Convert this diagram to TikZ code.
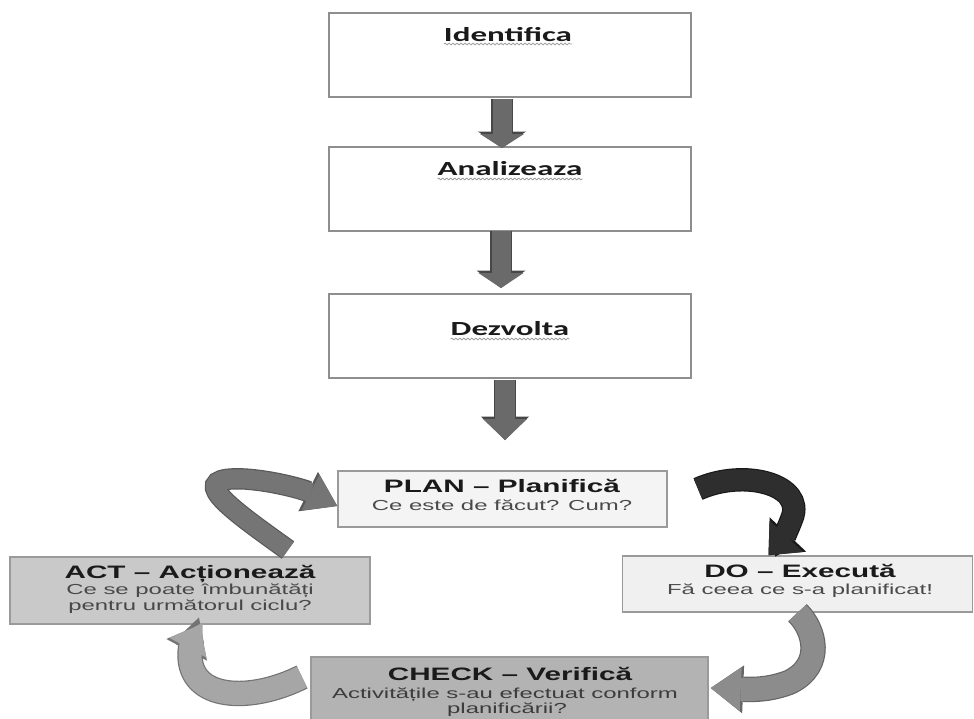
\documentclass[tikz,border=0pt]{standalone}
\usepackage{fontspec}
\usetikzlibrary{arrows.meta,decorations.pathmorphing,calc}
\newfontfamily\stepfont[FakeStretch=1.65]{Carlito}
\newfontfamily\cyclefont[FakeStretch=1.65]{Liberation Sans}
\definecolor{boxline}{HTML}{8E8E8E}
\definecolor{cycleline}{HTML}{9A9A9A}
\definecolor{planfill}{HTML}{F4F4F4}
\definecolor{dofill}{HTML}{F0F0F0}
\definecolor{actfill}{HTML}{C9C9C9}
\definecolor{checkfill}{HTML}{B3B3B3}
\definecolor{titletext}{HTML}{1A1A1A}
\definecolor{subtext}{HTML}{4A4A4A}
\definecolor{squiggle}{HTML}{A0A0A0}
\definecolor{stemfill}{HTML}{6A6A6A}
\definecolor{stemline}{HTML}{474747}
% ribbon arrow: outline colour, fill colour, shaft width, tip length, tip width, path
\newcommand\ribbonarrow[6]{%
  \draw[line width=#3pt+2.4pt, draw=#1, line cap=butt,
        -{Triangle[length=#4pt+2.4pt, width=#5pt+4pt, line width'=0pt]}] #6;
  \draw[line width=#3pt, draw=#2, line cap=butt,
        -{Triangle[length=#4pt, width=#5pt, line width'=0pt]}] #6;
}
\begin{document}
\begin{tikzpicture}[x=1pt, y=-1pt,
  stepbox/.style={draw=boxline, line width=2.6pt, fill=white,
    minimum width=362pt, minimum height=84pt, inner sep=0pt},
  steplabel/.style={anchor=base, inner sep=0pt, font=\stepfont\bfseries\fontsize{20}{22}\selectfont,
    text=titletext},
  cyclebox/.style={draw=cycleline, line width=1.5pt, inner sep=0pt},
  cycletitle/.style={anchor=base, inner sep=0pt, font=\cyclefont\bfseries\fontsize{18}{20}\selectfont,
    text=titletext},
  cyclesub/.style={anchor=base, inner sep=0pt, font=\cyclefont\fontsize{14.5}{16}\selectfont,
    text=subtext},
  wavy/.style={draw=squiggle, line width=0.8pt,
    decorate, decoration={snake, segment length=4pt, amplitude=0.9pt}}
]
\useasboundingbox (0,0) rectangle (974,718);
\fill[white] (0,0) rectangle (974,718);

% the three preparatory steps
\node[stepbox] (ident) at (510,55) {};
\node[stepbox] (analiz) at (510,189) {};
\node[stepbox] (dezv) at (510,336) {};

\node[steplabel] (identt) at (508,41) {Identifica};
\node[steplabel] (analizt) at (510,175) {Analizeaza};
\node[steplabel] (dezvt) at (510,335) {Dezvolta};
\draw[wavy] ([yshift=-3pt]identt.base west) -- ([yshift=-3pt]identt.base east);
\draw[wavy] ([yshift=-4pt]analizt.base west) -- ([yshift=-4pt]analizt.base east);
\draw[wavy] ([yshift=-4pt]dezvt.base west) -- ([yshift=-4pt]dezvt.base east);

% arrows between the steps
\coordinate (s1a) at (502,99);
\coordinate (s1b) at (502,148);
\coordinate (s2a) at (501,231);
\coordinate (s2b) at (501,288);
\coordinate (s3a) at (505,380);
\coordinate (s3b) at (505,440);
\ribbonarrow{stemline}{stemfill}{19}{14}{44}{(s1a) -- (s1b)}
\ribbonarrow{stemline}{stemfill}{19}{15}{45}{(s2a) -- (s2b)}
\ribbonarrow{stemline}{stemfill}{20}{21}{44}{(s3a) -- (s3b)}

% PDCA cycle boxes
\node[cyclebox, fill=planfill, minimum width=329pt, minimum height=56pt] (plan) at (502.5,499) {};
\node[cyclebox, fill=dofill, minimum width=350pt, minimum height=56pt] (do) at (797.5,584) {};
\node[cyclebox, fill=actfill, minimum width=360pt, minimum height=67pt] (act) at (190,590.5) {};
\node[cyclebox, fill=checkfill, minimum width=397pt, minimum height=80pt] (check) at (509.5,697) {};

\node[cycletitle] (plant) at (502,492) {PLAN – Planifică};
\node[cyclesub] (plans) at (502,510.5) {Ce este de făcut? Cum?};

\node[cycletitle] (dot) at (800,577) {DO – Execută};
\node[cyclesub] (dos) at (800,594) {Fă ceea ce s-a planificat!};

\node[cycletitle] (actt) at (190,578) {ACT – Acționează};
\node[cyclesub, text=titletext!80] (acts1) at (190,594) {Ce se poate îmbunătăți};
\node[cyclesub, text=titletext!80] (acts2) at (190,610) {pentru următorul ciclu?};

\node[cycletitle] (checkt) at (510,680) {CHECK – Verifică};
\node[cyclesub, text=titletext!85] (checks1) at (505,698) {Activitățile s-au efectuat conform};
\node[cyclesub, text=titletext!85] (checks2) at (507,713) {planificării?};

% curved arrows of the cycle
\coordinate (a1s) at (288,550);
\ribbonarrow{black!65}{black!54}{19}{30}{40}{(a1s) .. controls (225,505) and (185,476) .. (245,479)
   .. controls (275,481) and (305,490) .. ([yshift=-7pt]plan.west)}

\coordinate (a2s) at (698,489);
\ribbonarrow{black!90}{black!82}{21}{26}{46}{(a2s) .. controls (745,468) and (805,485) .. (792,518)
   .. controls (787,532) and (780,543) .. ([xshift=-29pt]do.north)}

\ribbonarrow{black!60}{black!45}{23}{30}{44}{(do.south) .. controls (815,630) and (824,665) .. (790,682)
   .. controls (775,688) and (760,690) .. ([xshift=2pt,yshift=9pt]check.east)}

\coordinate (a4s) at (302,677);
\ribbonarrow{black!55}{black!35}{23}{26}{42}{(a4s) .. controls (250,703) and (190,700) .. (190,655)
   .. controls (190,645) and (194,636) .. ([xshift=10pt]act.south)}

\end{tikzpicture}
\end{document}
